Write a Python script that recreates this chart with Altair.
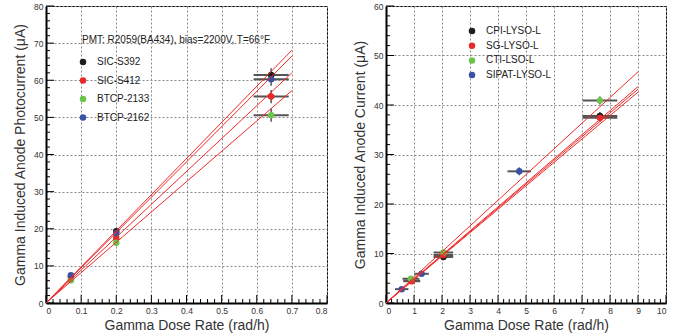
import altair as alt
import pandas as pd

FONT = "Liberation Sans"

# ---------------- Left panel data ----------------
L_series = ["SIC-S392", "SIC-S412", "BTCP-2133", "BTCP-2162"]
L_colors = ["#1e1e1e", "#ea2a2a", "#6cc44a", "#3a52a6"]
L_x = [0.071, 0.200, 0.641]
L_xerr = [0.004, 0.006, 0.050]
L_y_S392 = [7.2, 19.3, 61.4]
L_y_S412 = [6.6, 17.5, 55.6]
L_y_2133 = [6.1, 16.2, 50.6]
L_y_2162 = [7.5, 18.8, 60.3]
L_yerr = [0.3, 0.7, 1.8]
L_fit_xmax = 0.70
L_fit_ymax = [68.1, 66.5, 62.0, 57.2]
L_annot = ["PMT: R2059(BA434), bias=2200V, T=66\u00b0F"]
L_xticks = [0, 0.1, 0.2, 0.3, 0.4, 0.5, 0.6, 0.7, 0.8]
L_yticks = [0, 10, 20, 30, 40, 50, 60, 70, 80]

# ---------------- Right panel data ----------------
R_series = ["CPI-LYSO-L", "SG-LYSO-L", "CTI-LSO-L", "SIPAT-LYSO-L"]
R_colors = ["#1e1e1e", "#ea2a2a", "#6cc44a", "#3a52a6"]
R_x_CPI = [0.92, 2.05, 7.64]
R_y_CPI = [4.5, 9.3, 37.8]
R_x_SG = [0.92, 2.05, 7.64]
R_y_SG = [4.4, 9.7, 37.4]
R_x_CTI = [0.89, 2.05, 7.64]
R_y_CTI = [4.9, 10.2, 40.9]
R_x_SIPAT = [0.56, 1.27, 4.76]
R_y_SIPAT = [2.8, 5.9, 26.6]
R_xerr_CPI = [0.30, 0.35, 0.62]
R_xerr_SIPAT = [0.24, 0.26, 0.42]
R_yerr = [0.3, 0.5, 0.8]
R_fit_xmax = 9.0
R_fit_ymax = [46.7, 43.7, 43.2, 42.6]
R_xticks = [0, 1, 2, 3, 4, 5, 6, 7, 8, 9, 10]
R_yticks = [0, 10, 20, 30, 40, 50, 60]

W1, W2, H = 281, 280, 297


def points_df(series, xs, ys, xerrs, yerrs):
    rows = []
    for s, xv, yv, xe in zip(series, xs, ys, xerrs):
        for a, b, ex, ey in zip(xv, yv, xe, yerrs):
            rows.append(dict(series=s, x=a, y=b, xlo=a - ex, xhi=a + ex,
                             ylo=b - ey, yhi=b + ey))
    return pd.DataFrame(rows)


def fit_df(xmax, ymaxs):
    return pd.DataFrame(dict(x0=[0.0] * len(ymaxs), y0=[0.0] * len(ymaxs),
                             x1=[xmax] * len(ymaxs), y1=ymaxs))


def minor(vals, n):
    out = []
    for a, b in zip(vals[:-1], vals[1:]):
        for k in range(1, n):
            out.append(a + (b - a) * k / n)
    return out


def panel(pts, fit, xdom, ydom, xt, yt, xtitle, ytitle, series, colors,
          legend, width, annot=None):
    xs = alt.Scale(domain=xdom, nice=False, zero=False)
    ys = alt.Scale(domain=ydom, nice=False, zero=False)
    common = dict(grid=True, gridDash=[2, 2], gridColor="#8a8a8a",
                  gridWidth=1, ticks=False, domainColor="#000",
                  domainWidth=2, labelFontSize=8.5, labelColor="#333",
                  titleFontSize=14, titleFontWeight="normal",
                  titleColor="#333", format="~r", labelFont=FONT,
                  titleFont=FONT)
    xax = alt.Axis(values=xt, title=xtitle, labelPadding=3, titlePadding=4,
                   **common)
    yax = alt.Axis(values=yt, title=ytitle, labelPadding=3, titlePadding=6,
                   **common)

    def X(f):
        return alt.X(f, type="quantitative", scale=xs, axis=xax)

    def Y(f):
        return alt.Y(f, type="quantitative", scale=ys, axis=yax)

    base = alt.Chart(pts)
    herr = base.mark_rule(color="#555", strokeWidth=2).encode(
        x=X("xlo"), x2="xhi", y=Y("y"))
    verr = base.mark_rule(color="#555", strokeWidth=1.5).encode(
        x=X("x"), y=Y("ylo"), y2="yhi")
    dots = base.mark_circle(size=42, opacity=1).encode(
        x=X("x"), y=Y("y"),
        color=alt.Color("series:N", scale=alt.Scale(domain=series,
                                                     range=colors),
                        legend=legend))
    lines = alt.Chart(fit).mark_rule(color="#ee2a2a", strokeWidth=1).encode(
        x=X("x0"), y=Y("y0"), x2="x1", y2="y1")

    ymaj = pd.DataFrame(dict(v=yt))
    ymin = pd.DataFrame(dict(v=minor(yt, 5)))
    xmaj = pd.DataFrame(dict(v=xt))
    xmin = pd.DataFrame(dict(v=minor(xt, 5)))
    tk = dict(color="#000", strokeWidth=1)
    t1 = alt.Chart(ymaj).mark_rule(**tk).encode(
        y=Y("v"), x=alt.value(0), x2=alt.value(8))
    t2 = alt.Chart(ymin).mark_rule(**tk).encode(
        y=Y("v"), x=alt.value(0), x2=alt.value(4))
    t3 = alt.Chart(xmaj).mark_rule(**tk).encode(
        x=X("v"), y=alt.value(H), y2=alt.value(H - 8))
    t4 = alt.Chart(xmin).mark_rule(**tk).encode(
        x=X("v"), y=alt.value(H), y2=alt.value(H - 4))

    layers = [t1, t2, t3, t4, herr, verr, dots, lines]
    if annot is not None:
        txt = alt.Chart(pd.DataFrame(dict(t=annot))).mark_text(
            align="left", baseline="middle", fontSize=10, font=FONT,
            color="#222").encode(text="t:N", x=alt.value(36),
                                 y=alt.value(34))
        layers.append(txt)
    return alt.layer(*layers).properties(width=width, height=H)


L_pts = points_df(L_series, [L_x] * 4,
                  [L_y_S392, L_y_S412, L_y_2133, L_y_2162],
                  [L_xerr] * 4, L_yerr)
R_pts = points_df(R_series, [R_x_CPI, R_x_SG, R_x_CTI, R_x_SIPAT],
                  [R_y_CPI, R_y_SG, R_y_CTI, R_y_SIPAT],
                  [R_xerr_CPI, R_xerr_CPI, R_xerr_CPI, R_xerr_SIPAT], R_yerr)

legL = alt.Legend(orient="none", legendX=32, legendY=51, title=None,
                  labelFontSize=10, labelFont=FONT, labelColor="#222",
                  symbolType="circle", symbolSize=42, symbolStrokeWidth=0,
                  rowPadding=8.5, labelOffset=9, padding=0)
legR = alt.Legend(orient="none", legendX=81, legendY=20, title=None,
                  labelFontSize=10, labelFont=FONT, labelColor="#222",
                  symbolType="circle", symbolSize=42, symbolStrokeWidth=0,
                  rowPadding=4.7, labelOffset=9, padding=0)

left = panel(L_pts, fit_df(L_fit_xmax, L_fit_ymax), [0, 0.8], [0, 80],
             L_xticks, L_yticks, "Gamma Dose Rate (rad/h)",
             "Gamma Induced Anode Photocurrent (\u03bcA)", L_series,
             L_colors, legL, W1, annot=L_annot)
right = panel(R_pts, fit_df(R_fit_xmax, R_fit_ymax), [0, 10], [0, 60],
              R_xticks, R_yticks, "Gamma Dose Rate (rad/h)",
              "Gamma Induced Anode Current (\u03bcA)", R_series, R_colors,
              legR, W2)

chart = alt.hconcat(left, right, spacing=59, bounds="flush").resolve_scale(
    color="independent", x="independent", y="independent"
).properties(
    padding={"left": 13, "top": 1, "right": 0, "bottom": 0},
    background="white",
).configure(font=FONT).configure_view(stroke="#000", strokeWidth=1)

chart.save("out.html", embed_options={"renderer": "svg", "actions": False})
